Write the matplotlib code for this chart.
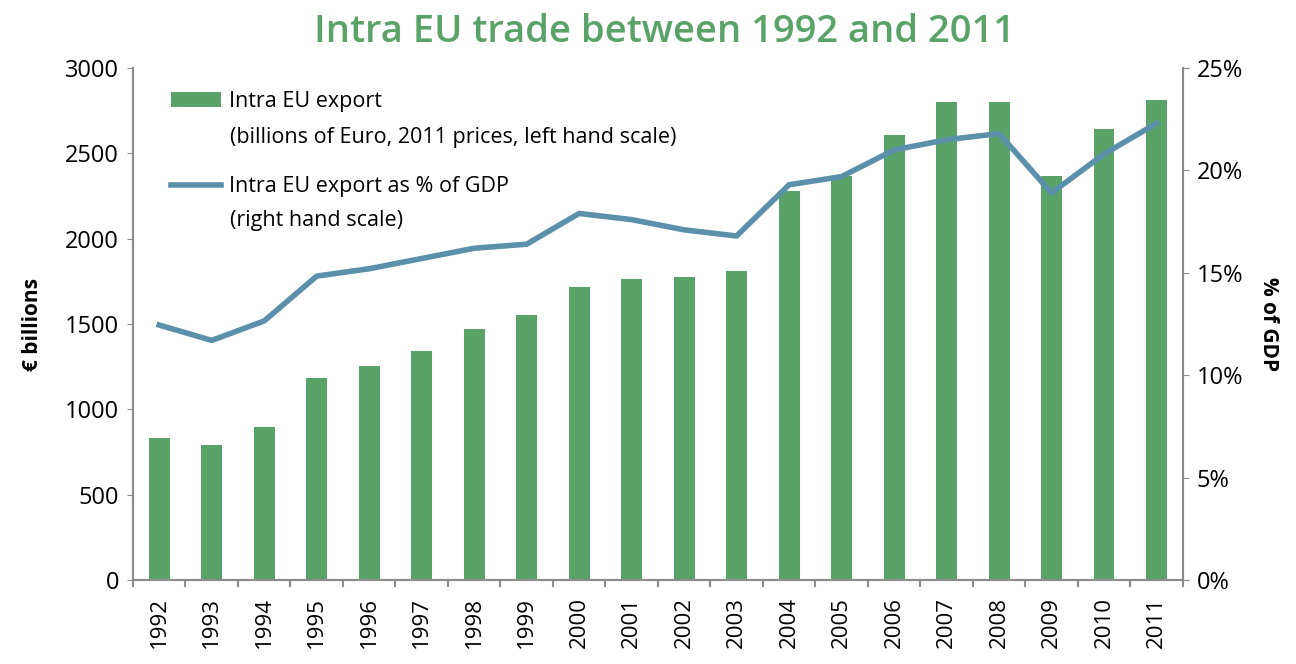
import matplotlib.pyplot as plt
import numpy as np
from matplotlib.ticker import FuncFormatter

years = [str(y) for y in range(1992, 2012)]
export_bn = [832, 791, 896, 1183, 1254, 1342, 1470, 1552, 1716, 1763,
             1775, 1810, 2279, 2367, 2607, 2800, 2800, 2367, 2642, 2812]
export_pct = [12.45, 11.7, 12.65, 14.84, 15.2, 15.7, 16.2, 16.4, 17.9, 17.6,
              17.1, 16.8, 19.3, 19.7, 21.0, 21.5, 21.8, 18.9, 20.8, 22.3]

green = '#59a368'
blue = '#5b90aa'
grey = '#8c8c8c'

plt.rcParams['font.family'] = ['Open Sans', 'DejaVu Sans']

fig = plt.figure(figsize=(12.96, 6.64), dpi=100)
ax = fig.add_axes([0.1026, 0.1265, 0.81, 0.771])
ax2 = ax.twinx()

x = np.arange(len(years))
bars = ax.bar(x, export_bn, width=0.4, color=green, zorder=2, label='Intra EU export')
line, = ax2.plot(x, export_pct, color=blue, lw=4, zorder=3,
                 label='Intra EU export as % of GDP')

ax.set_xlim(-0.5, len(years) - 0.5)
ax.set_ylim(0, 3000)
ax2.set_ylim(0, 25)
ax.set_yticks(range(0, 3001, 500))
ax2.set_yticks(range(0, 26, 5))
ax2.yaxis.set_major_formatter(FuncFormatter(lambda v, p: f'{int(v)}%'))

ax.set_xticks(x)
ax.set_xticklabels(years, rotation=90, fontsize=16)
ax.set_xticks(np.arange(-0.5, len(years)), minor=True)
ax.tick_params(axis='x', which='major', length=0, pad=12)
ax.tick_params(axis='x', which='minor', length=5, color=grey, width=1.5)
ax.tick_params(axis='y', labelsize=17, length=4, color=grey, pad=6)
ax2.tick_params(axis='y', labelsize=17, length=4, color=grey, pad=6)

for a in (ax, ax2):
    a.spines['top'].set_visible(False)
    for s in ('left', 'right', 'bottom'):
        a.spines[s].set_color(grey)
        a.spines[s].set_linewidth(1.5)

ax.set_ylabel('€ billions', fontsize=15, fontweight='bold', labelpad=16)
ax2.set_ylabel('% of GDP', fontsize=15, fontweight='bold', rotation=270, labelpad=26)

fig.suptitle('Intra EU trade between 1992 and 2011', color=green, fontsize=27.5,
             fontweight='semibold', x=0.513, y=0.98)

# legend: first line of each entry next to its key, the note below it
leg = ax2.legend(handles=[bars, line], loc='upper left', bbox_to_anchor=(0.022, 0.984),
                 frameon=False, fontsize=15.5, handlelength=2.3, labelspacing=2.98,
                 handletextpad=0.38, borderaxespad=0.3)
ax2.text(0.0924, 0.865, '(billions of Euro, 2011 prices, left hand scale)',
         transform=ax2.transAxes, fontsize=15.5, va='center', ha='left')
ax2.text(0.0924, 0.703, '(right hand scale)',
         transform=ax2.transAxes, fontsize=15.5, va='center', ha='left')

fig.savefig('out.png', dpi=100)
